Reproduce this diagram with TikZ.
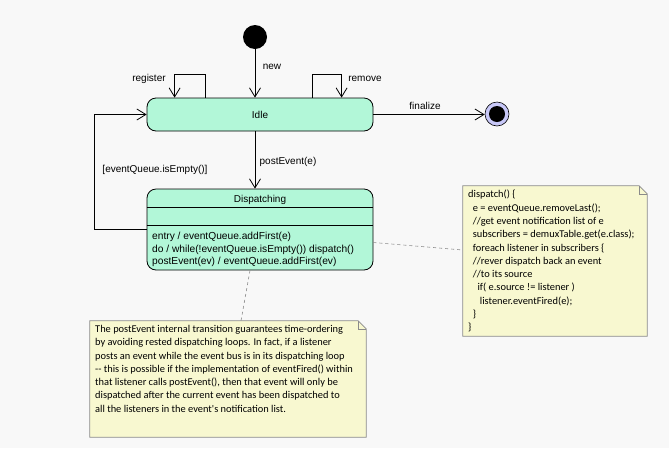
\documentclass[tikz,border=0pt]{standalone}
\usepackage{fontspec}
\setmainfont{Liberation Sans}
\newfontfamily\notefont{Carlito}
\usetikzlibrary{arrows.meta,calc}
\definecolor{bgc}{HTML}{F8F8F8}
\definecolor{mint}{HTML}{B2F7D8}
\definecolor{notefill}{HTML}{F8F8D0}
\definecolor{noteline}{HTML}{8A8A8A}
\definecolor{ringc}{HTML}{C8C8F8}
\begin{document}
\begin{tikzpicture}[x=1pt,y=-1pt,
  arr/.style={draw=black,line width=0.8pt,-{Straight Barb[length=9pt,width=11pt,line width=0.8pt]}},
  statebox/.style={draw=black,line width=0.8pt,fill=mint,rounded corners=9pt,minimum width=226pt,inner sep=0pt},
  lbl/.style={font=\fontsize{10}{12}\selectfont,inner sep=0pt},
  notebox/.style={draw=none,inner sep=0pt},
  notetext/.style={font=\notefont\fontsize{10.4}{13.3}\selectfont,align=left,inner sep=0pt,anchor=north west},
  anno/.style={draw=noteline,line width=0.6pt,dash pattern=on 3pt off 3pt}
]
\fill[bgc] (0,0) rectangle (669,448);
\useasboundingbox (0,0) rectangle (669,448);

% states
\node[circle,fill=black,minimum size=24pt,inner sep=0pt] (init) at (255,37) {};
\node[statebox,minimum height=33pt] (idle) at (260,114.5) {\fontsize{10}{12}\selectfont Idle};
\node[statebox,minimum height=81pt] (disp) at (260,229.5) {};
\node[circle,draw=black,line width=0.6pt,fill=ringc,minimum size=24pt,inner sep=0pt] (final) at (497,114) {};
\node[circle,fill=black,minimum size=16pt,inner sep=0pt] (finalin) at (final) {};

% Dispatching compartments
\draw[line width=0.8pt] ([yshift=-19pt]disp.north west) -- ([yshift=-19pt]disp.north east);
\draw[line width=0.8pt] ([yshift=-37pt]disp.north west) -- ([yshift=-37pt]disp.north east);
\node[lbl] (dname) at (260,200) {Dispatching};
\node[lbl,align=left,anchor=north west,font=\fontsize{10.2}{12.6}\selectfont] (dbody) at (152,232)
  {entry / eventQueue.addFirst(e)\\do / while(!eventQueue.isEmpty()) dispatch()\\postEvent(ev) / eventQueue.addFirst(ev)};

% transitions
\draw[arr] (init) -- (init |- idle.north);
\node[lbl] (lnew) at (272,67) {new};
\draw[arr] ([xshift=59pt]idle.north west) -- ++(0,-23) -| ([xshift=28pt]idle.north west);
\node[lbl] (lreg) at (149,79) {register};
\draw[arr] ([xshift=166pt]idle.north west) -- ++(0,-23) -| ([xshift=195pt]idle.north west);
\node[lbl] (lrem) at (365,79) {remove};
\draw[arr] (idle.east) -- (idle.east -| final.west);
\node[lbl] (lfin) at (425,106) {finalize};
\draw[arr] (init |- idle.south) -- (init |- disp.north);
\node[lbl] (lpost) at (288,162) {postEvent(e)};
\draw[arr] (disp.west) -- ++(-52,0) |- (idle.west);
\node[lbl] (lempty) at (155,170) {[eventQueue.isEmpty()]};

% note A
\node[notebox,minimum width=184pt,minimum height=150pt] (noteA) at (555,261) {};
\draw[draw=noteline,line width=0.8pt,fill=notefill]
  (noteA.north west) -- ([xshift=-8pt]noteA.north east) -- ([yshift=-8pt]noteA.north east)
  -- (noteA.south east) -- (noteA.south west) -- cycle;
\draw[draw=noteline,line width=0.6pt] ([xshift=-8pt]noteA.north east) -- ++(0,8) -- ([yshift=-8pt]noteA.north east);
\node[notetext] (noteAtext) at (468,190) {dispatch() \{\\
\ \ e = eventQueue.removeLast();\\
\ \ //get event notification list of e\\
\ \ subscribers = demuxTable.get(e.class);\\
\ \ foreach listener in subscribers \{\\
\ \ //rever dispatch back an event\\
\ \ //to its source\\
\ \ \ \ if( e.source != listener )\\
\ \ \ \ \ listener.eventFired(e);\\
\ \ \}\\
\}};
\draw[anno] ([yshift=-13pt]disp.east) -- ([yshift=11pt]noteA.west);

% note B
\node[notebox,minimum width=276pt,minimum height=116pt] (noteB) at (228,379) {};
\draw[draw=noteline,line width=0.8pt,fill=notefill]
  (noteB.north west) -- ([xshift=-8pt]noteB.north east) -- ([yshift=-8pt]noteB.north east)
  -- (noteB.south east) -- (noteB.south west) -- cycle;
\draw[draw=noteline,line width=0.6pt] ([xshift=-8pt]noteB.north east) -- ++(0,8) -- ([yshift=-8pt]noteB.north east);
\node[notetext] (noteBtext) at (95,325) {The postEvent internal transition guarantees time-ordering\\
by avoiding rested dispatching loops. In fact, if a listener\\
posts an event while the event bus is in its dispatching loop\\
-- this is possible if the implementation of eventFired() within\\
that listener calls postEvent(), then that event will only be\\
dispatched after the current event has been dispatched to\\
all the listeners in the event's notification list.};
\draw[anno] ([xshift=-10pt]disp.south) -- ([xshift=13pt]noteB.north);
\end{tikzpicture}
\end{document}
